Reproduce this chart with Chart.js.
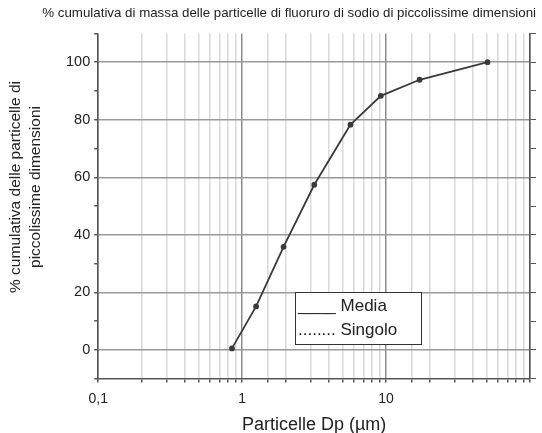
<!DOCTYPE html>
<html>
<head>
<meta charset="utf-8">
<script src="https://cdn.jsdelivr.net/npm/chart.js@4/dist/chart.umd.min.js"></script>
<style>
  html, body { margin: 0; padding: 0; background: #fff; }
  #wrap { width: 542px; height: 433px; }
</style>
</head>
<body>
<div id="wrap"><canvas id="chart"></canvas></div>
<script>
// particle diameter (µm) and cumulative mass %
const diameters = [0.85, 1.25, 1.94, 3.17, 5.66, 9.2, 17.1, 50.7];
const cumulative = [0.5, 15.1, 35.8, 57.4, 78.3, 88.3, 93.9, 100];
const xTickLabels = { 0.1: '0,1', 1: '1', 10: '10' };
const legendItems = ['____ Media', '........ Singolo'];
const yTitleLines = ['% cumulativa delle particelle di', 'piccolissime dimensioni'];

const FONT = '"Liberation Sans", Arial, sans-serif';

const isDecade = v => Math.abs(Math.log10(v) - Math.round(Math.log10(v))) < 1e-6;

// legend box + y title drawn by hand
const extras = {
  id: 'extras',
  afterDraw(chart) {
    const ctx = chart.ctx;
    ctx.save();
    // legend box
    ctx.fillStyle = '#fff';
    ctx.fillRect(295, 292, 127, 53);
    ctx.strokeStyle = '#333';
    ctx.lineWidth = 1;
    ctx.strokeRect(295.5, 292.5, 126, 52);
    ctx.fillStyle = '#222';
    ctx.font = '17px ' + FONT;
    ctx.textBaseline = 'middle';
    ctx.fillText(legendItems[0], 298, 306);
    ctx.fillText(legendItems[1], 298, 330);
    // y title
    ctx.font = '15.5px ' + FONT;
    ctx.translate(0, 187);
    ctx.rotate(-Math.PI / 2);
    ctx.textAlign = 'center';
    ctx.fillText(yTitleLines[0], 0, 16);
    ctx.fillText(yTitleLines[1], 0, 36);
    ctx.restore();
  }
};

new Chart(document.getElementById('chart'), {
  type: 'line',
  data: {
    datasets: [{
      data: diameters.map((d, i) => ({ x: d, y: cumulative[i] })),
      borderColor: '#3a3a3a',
      backgroundColor: '#3a3a3a',
      borderWidth: 1.8,
      pointRadius: 2,
      pointHoverRadius: 2,
      tension: 0
    }]
  },
  options: {
    responsive: true,
    maintainAspectRatio: false,
    animation: false,
    layout: { padding: { left: 0, right: 6, bottom: 0 } },
    plugins: {
      legend: { display: false },
      tooltip: { enabled: false },
      title: {
        display: true,
        text: '% cumulativa di massa delle particelle di fluoruro di sodio di piccolissime dimensioni',
        align: 'end',
        color: '#222',
        font: { family: FONT, size: 13.3, weight: 'normal' },
        padding: { top: 5, bottom: 12.5 }
      }
    },
    scales: {
      x: {
        type: 'logarithmic',
        min: 0.1,
        max: 100,
        border: { color: '#555', width: 1.5 },
        grid: {
          color: ctx => isDecade(ctx.tick.value) ? '#8c8c8c' : '#dadada',
          lineWidth: 1.5,
          tickColor: '#555',
          tickLength: 4
        },
        ticks: {
          autoSkip: false,
          maxRotation: 0,
          padding: 8,
          color: '#222',
          font: { family: FONT, size: 14 },
          callback: v => {
            for (const k in xTickLabels) {
              if (Math.abs(v - Number(k)) < 1e-9) return xTickLabels[k];
            }
            return '';
          }
        },
        title: {
          display: true,
          text: 'Particelle Dp (µm)',
          color: '#222',
          font: { family: FONT, size: 18 },
          padding: { top: -1, bottom: -3 }
        }
      },
      y: {
        min: -10,
        max: 110,
        border: { color: '#555', width: 1.5 },
        grid: {
          color: ctx => (ctx.tick.value % 20 === 0) ? '#9a9a9a' : 'rgba(0,0,0,0)',
          lineWidth: 1.5,
          tickColor: '#555',
          tickLength: 4
        },
        ticks: {
          stepSize: 10,
          padding: 4,
          color: '#222',
          font: { family: FONT, size: 14.5 },
          callback: v => (v % 20 === 0 && v >= 0 && v <= 100) ? String(v) : ''
        },
        // leave room on the left for the hand-drawn axis title
        afterFit: scale => { scale.width += 62; }
      },
      y2: {
        position: 'right',
        min: -10,
        max: 110,
        border: { color: '#555', width: 1.5 },
        grid: { drawOnChartArea: false, tickColor: '#555', tickLength: 6 },
        ticks: { display: false, stepSize: 10 }
      }
    }
  },
  plugins: [extras]
});
</script>
</body>
</html>
